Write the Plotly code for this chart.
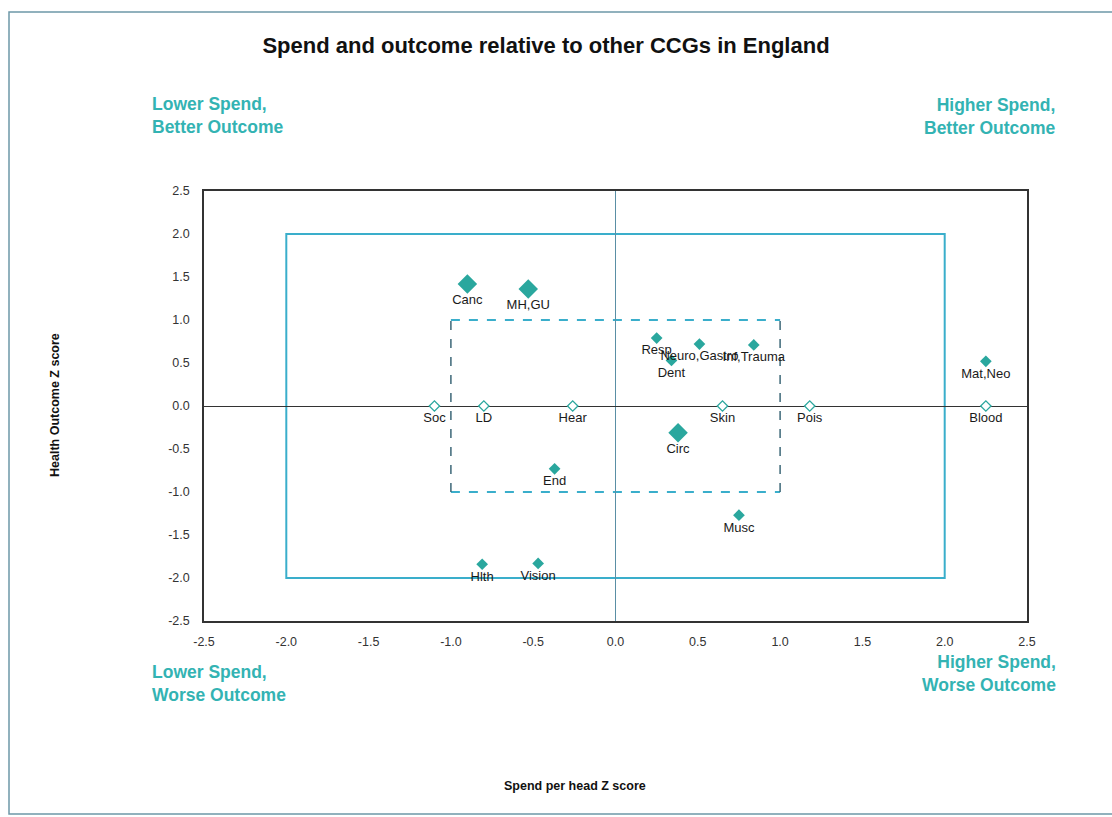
import plotly.graph_objects as go

# ---- data ----
big_labels = ["Canc", "MH,GU", "Circ"]
big_x = [-0.90, -0.53, 0.38]
big_y = [1.42, 1.36, -0.31]

small_labels = ["Resp", "Dent", "Neuro,Gastro", "Inf,Trauma", "Mat,Neo", "End", "Musc", "Hlth", "Vision"]
small_x = [0.25, 0.34, 0.51, 0.84, 2.25, -0.37, 0.75, -0.81, -0.47]
small_y = [0.79, 0.53, 0.72, 0.71, 0.52, -0.73, -1.27, -1.84, -1.83]

open_labels = ["Soc", "LD", "Hear", "Skin", "Pois", "Blood"]
open_x = [-1.10, -0.80, -0.26, 0.65, 1.18, 2.25]
open_y = [0.0, 0.0, 0.0, 0.0, 0.0, 0.0]

tick_vals = [-2.5, -2.0, -1.5, -1.0, -0.5, 0.0, 0.5, 1.0, 1.5, 2.0, 2.5]
tick_text = ["-2.5", "-2.0", "-1.5", "-1.0", "-0.5", "0.0", "0.5", "1.0", "1.5", "2.0", "2.5"]

inner_box = [-1.0, 1.0, -1.0, 1.0]   # x0, x1, y0, y1
outer_box = [-2.0, 2.0, -2.0, 2.0]

TEAL = "#2aa79e"
BOXC = "#3aaecb"
LABC = "#33b3b3"
FONT = "Liberation Sans, Arial, sans-serif"

fig = go.Figure()

lab_font = dict(family=FONT, size=13, color="#1a1a1a")

fig.add_trace(go.Scatter(
    x=big_x, y=big_y, text=big_labels, mode="markers+text",
    textposition="bottom center", textfont=lab_font,
    marker=dict(symbol="diamond", size=15, color=TEAL, line=dict(width=0)),
    hoverinfo="text", showlegend=False, cliponaxis=False))

fig.add_trace(go.Scatter(
    x=small_x, y=small_y, text=small_labels, mode="markers+text",
    textposition="bottom center", textfont=lab_font,
    marker=dict(symbol="diamond", size=9, color=TEAL, line=dict(width=0)),
    hoverinfo="text", showlegend=False, cliponaxis=False))

fig.add_trace(go.Scatter(
    x=open_x, y=open_y, text=open_labels, mode="markers+text",
    textposition="bottom center", textfont=lab_font,
    marker=dict(symbol="diamond", size=8, color="white", line=dict(width=1.3, color=TEAL)),
    hoverinfo="text", showlegend=False, cliponaxis=False))

# outer solid box
fig.add_shape(type="rect", xref="x", yref="y",
              x0=outer_box[0], x1=outer_box[1], y0=outer_box[2], y1=outer_box[3],
              line=dict(color=BOXC, width=2), layer="below")
# inner dashed box: top/bottom teal dashes, sides dark dashes
fig.add_shape(type="line", xref="x", yref="y", x0=inner_box[0], x1=inner_box[1],
              y0=inner_box[3], y1=inner_box[3], line=dict(color=BOXC, width=2, dash="dash"), layer="below")
fig.add_shape(type="line", xref="x", yref="y", x0=inner_box[0], x1=inner_box[1],
              y0=inner_box[2], y1=inner_box[2], line=dict(color=BOXC, width=2, dash="dash"), layer="below")
fig.add_shape(type="line", xref="x", yref="y", x0=inner_box[0], x1=inner_box[0],
              y0=inner_box[2], y1=inner_box[3], line=dict(color="#3d6878", width=1.5, dash="dash"), layer="below")
fig.add_shape(type="line", xref="x", yref="y", x0=inner_box[1], x1=inner_box[1],
              y0=inner_box[2], y1=inner_box[3], line=dict(color="#3d6878", width=1.5, dash="dash"), layer="below")

# page frame
fig.add_shape(type="rect", xref="paper", yref="paper",
              x0=(9 - 204) / 823, x1=(1120 - 204) / 823,
              y0=(621 - 814) / 430, y1=(621 - 12) / 430,
              line=dict(color="#6e98a8", width=1.5), layer="below")

quad_font = dict(family=FONT, size=17.5, color=LABC)
fig.add_annotation(text="<b>Lower Spend,<br>Better Outcome</b>", xref="paper", yref="paper",
                   x=(150 - 204) / 823, y=(621 - 116) / 430, xanchor="left", yanchor="middle",
                   align="left", showarrow=False, font=quad_font)
fig.add_annotation(text="<b>Higher Spend,<br>Better Outcome</b>", xref="paper", yref="paper",
                   x=(1058 - 204) / 823, y=(621 - 117) / 430, xanchor="right", yanchor="middle",
                   align="right", showarrow=False, font=quad_font)
fig.add_annotation(text="<b>Lower Spend,<br>Worse Outcome</b>", xref="paper", yref="paper",
                   x=(150 - 204) / 823, y=(621 - 683) / 430, xanchor="left", yanchor="middle",
                   align="left", showarrow=False, font=quad_font)
fig.add_annotation(text="<b>Higher Spend,<br>Worse Outcome</b>", xref="paper", yref="paper",
                   x=(1058 - 204) / 823, y=(621 - 673) / 430, xanchor="right", yanchor="middle",
                   align="right", showarrow=False, font=quad_font)

# axis titles
fig.add_annotation(text="<b>Spend per head Z score</b>", xref="paper", yref="paper",
                   x=(575 - 204) / 823, y=(621 - 786) / 430, xanchor="center", yanchor="middle",
                   showarrow=False, font=dict(family=FONT, size=12.5, color="#111"))
fig.add_annotation(text="<b>Health Outcome Z score</b>", xref="paper", yref="paper",
                   x=(55 - 204) / 823, y=(621 - 405) / 430, xanchor="center", yanchor="middle",
                   textangle=-90, showarrow=False, font=dict(family=FONT, size=12.5, color="#111"))

axis_common = dict(
    range=[-2.5, 2.5], tickvals=tick_vals, ticktext=tick_text,
    showgrid=False, showline=True, linecolor="#333", linewidth=1.5, mirror=True,
    ticks="", tickfont=dict(family=FONT, size=12.5, color="#333"),
    fixedrange=True,
)

fig.update_layout(
    width=1112, height=817,
    margin=dict(l=204, r=85, t=191, b=196),
    paper_bgcolor="white", plot_bgcolor="white",
    title=dict(text="<b>Spend and outcome relative to other CCGs in England</b>",
               xref="paper", x=(546 - 204) / 823, xanchor="center",
               yref="container", y=1 - 45 / 817, yanchor="middle",
               font=dict(family=FONT, size=22, color="#111")),
    xaxis=dict(**axis_common, zeroline=True, zerolinecolor="#5a8fa5", zerolinewidth=1.2,
               ticklabelstandoff=8),
    yaxis=dict(**axis_common, zeroline=True, zerolinecolor="#333", zerolinewidth=1.2,
               ticklabelstandoff=10),
)

fig.write_html("out.html", post_script="document.body.style.margin='0';",
               config={"displayModeBar": False})
